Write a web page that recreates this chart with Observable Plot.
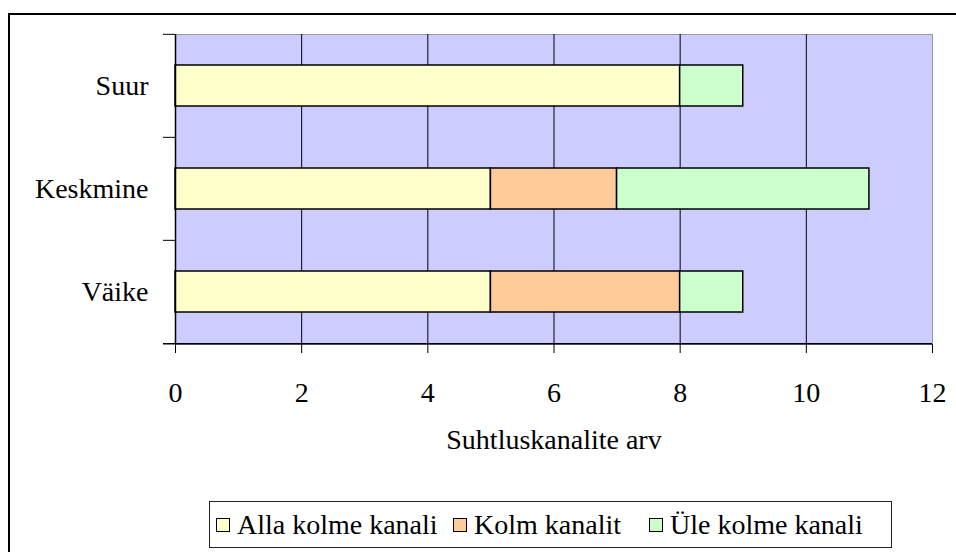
<!DOCTYPE html>
<html>
<head>
<meta charset="utf-8">
<script src="https://cdn.jsdelivr.net/npm/d3@7"></script>
<script src="https://cdn.jsdelivr.net/npm/@observablehq/plot@0.6"></script>
<style>
  html, body { margin: 0; padding: 0; background: #fff; overflow: hidden; }
  #wrap { position: relative; width: 956px; height: 552px; font-family: "Liberation Serif", "Times New Roman", "DejaVu Serif", serif; }
  #chart { position: absolute; left: 0; top: 0; }
  #frame { position: absolute; left: 8px; top: 13px; width: 960px; height: 560px; border: 2px solid #000; pointer-events: none; }
  #legend { position: absolute; left: 209px; top: 501px; width: 683px; height: 47px; border: 1px solid #222; box-sizing: border-box;
            font-size: 28px; color: #000; white-space: nowrap; }
  .item { position: absolute; top: 0; height: 45px; display: flex; align-items: center; }
  .sw { width: 12px; height: 12px; border: 1.5px solid #000; margin: 0 7px 0 0; }
</style>
</head>
<body>
<div id="wrap">
  <div id="chart"></div>
  <div id="legend"></div>
  <div id="frame"></div>
</div>
<script>
const categories = ["Suur", "Keskmine", "Väike"];
const seriesNames = ["Alla kolme kanali", "Kolm kanalit", "Üle kolme kanali"];
const seriesColors = ["#FFFFCC", "#FFCC99", "#CCFFCC"];
const allaKolme = [8, 5, 5];
const kolmKanalit = [0, 2, 3];
const uleKolme = [1, 4, 1];
const xTicks = [0, 2, 4, 6, 8, 10, 12];
const axisTitle = "Suhtluskanalite arv";

const seriesValues = [allaKolme, kolmKanalit, uleKolme];
const rows = [];
categories.forEach((c, i) => {
  seriesNames.forEach((s, j) => {
    rows.push({cat: c, series: s, value: seriesValues[j][i]});
  });
});

const FONT = "'Liberation Serif', 'Times New Roman', 'DejaVu Serif', serif";
const W = 956, H = 470;
const mL = 175, mR = 24, mT = 34, mB = H - 344;
const step = (H - mT - mB) / categories.length;

const chart = Plot.plot({
  width: W,
  height: H,
  marginLeft: mL,
  marginRight: mR,
  marginTop: mT,
  marginBottom: mB,
  style: {fontFamily: FONT, fontSize: "28px", color: "#000", background: "transparent"},
  x: {domain: [0, 12], ticks: xTicks, label: null},
  y: {domain: categories, paddingInner: 0.6, paddingOuter: 0.3, label: null},
  color: {domain: seriesNames, range: seriesColors},
  marks: [
    Plot.frame({fill: "#CCCCFF", stroke: "#999"}),
    Plot.ruleX(xTicks.filter(v => v > 0 && v < 12), {stroke: "#000", strokeWidth: 1}),
    Plot.barX(rows.filter(d => d.value > 0), Plot.stackX({y: "cat", x: "value", fill: "series", stroke: "#000", strokeWidth: 1.5})),
    Plot.ruleX([0], {stroke: "#000", strokeWidth: 1.5}),
    Plot.ruleY(categories, {y: d => d, dy: -step / 2, x1: 0, x2: 0, insetLeft: -12, stroke: "#000", strokeWidth: 1}),
    Plot.ruleY(categories.slice(-1), {y: d => d, dy: step / 2, x1: 0, x2: 12, insetLeft: -12, stroke: "#000", strokeWidth: 1.5}),
    Plot.axisX({ticks: xTicks, tickSize: 9, tickPadding: 29, stroke: "#000", fill: "#000", fontSize: 28, fontFamily: FONT, label: null}),
    Plot.axisY({tickSize: 0, tickPadding: 27, fill: "#000", fontSize: 28, fontFamily: FONT, label: null}),
    Plot.text([axisTitle], {frameAnchor: "bottom", dy: 104, fontSize: 28, fontFamily: FONT, fill: "#000"})
  ]
});
document.getElementById("chart").appendChild(chart);

const legend = document.getElementById("legend");
const itemLeft = [6, 243, 439];
seriesNames.forEach((s, j) => {
  const it = document.createElement("div");
  it.className = "item";
  it.style.left = itemLeft[j] + "px";
  const sw = document.createElement("div");
  sw.className = "sw";
  sw.style.background = seriesColors[j];
  const tx = document.createElement("span");
  tx.textContent = s;
  it.appendChild(sw);
  it.appendChild(tx);
  legend.appendChild(it);
});
</script>
</body>
</html>
